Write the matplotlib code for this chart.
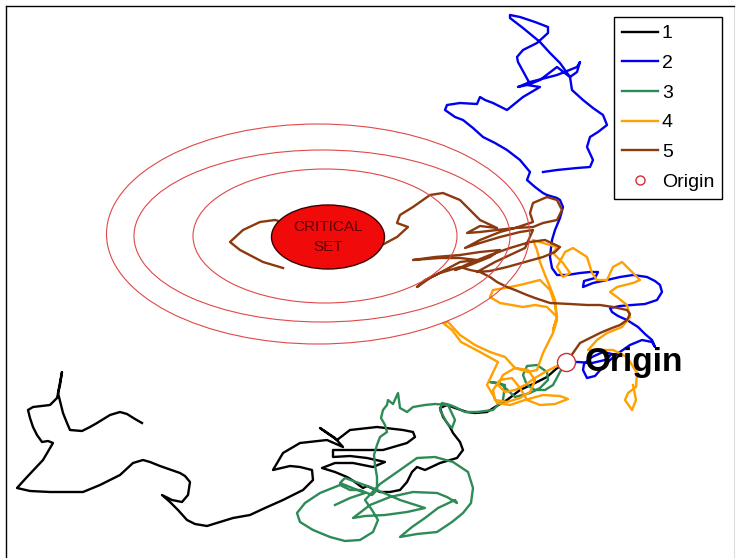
import matplotlib
matplotlib.use("Agg")
import matplotlib.pyplot as plt
from matplotlib.patches import Ellipse

# paths (pixel-like units, y grows downward)
origin = (566, 362)

p1_x = [566, 556, 547, 533, 520, 507, 495, 487, 475, 467, 455, 447, 440, 443, 450, 453, 460, 463, 457, 440,
        425, 417, 412, 407, 400, 390, 380, 367, 363, 352, 347, 335, 322, 335, 353, 373, 385, 367, 350, 333,
        333, 357, 383, 407, 415, 413, 403, 377, 350, 337, 320, 335, 343, 327, 300, 283, 273, 290, 300, 312,
        313, 303, 283, 265, 250, 233, 220, 207, 195, 187, 178, 170, 162, 172, 182, 188, 190, 185, 180, 160,
        150, 143, 133, 120, 100, 83, 65, 50, 30, 17, 27, 43, 53, 48, 42, 37, 33, 30, 28, 33,
        50, 57, 60, 62, 58, 61, 63, 67, 70, 82, 90, 97, 110, 120, 127, 135, 142]
p1_y = [362, 369, 377, 384, 390, 400, 407, 412, 413, 412, 408, 405, 408, 417, 427, 433, 442, 450, 458, 463,
        470, 467, 472, 482, 490, 492, 492, 486, 488, 480, 477, 472, 468, 463, 463, 467, 462, 458, 456, 457,
        450, 450, 450, 443, 437, 432, 430, 427, 430, 440, 428, 438, 447, 440, 443, 453, 470, 466, 467, 470,
        480, 490, 500, 508, 515, 518, 522, 526, 524, 520, 510, 502, 495, 500, 502, 495, 482, 476, 473, 466,
        462, 460, 463, 475, 485, 492, 492, 492, 491, 488, 477, 460, 443, 441, 442, 435, 427, 418, 410, 407,
        405, 398, 385, 372, 393, 405, 413, 423, 430, 431, 427, 423, 415, 412, 414, 419, 423]

p2_x = [566, 578, 592, 605, 612, 603, 592, 584, 583, 587, 595, 602, 610, 620, 630, 642, 652, 655, 652, 645,
        638, 627, 618, 612, 610, 620, 632, 645, 657, 662, 660, 655, 647, 633, 620, 607, 593, 583, 584, 595,
        598, 590, 580, 567, 557, 552, 550, 551, 552, 555, 560, 563, 560, 557, 547, 543, 535, 527, 530, 520,
        507, 495, 483, 473, 463, 455, 445, 447, 460, 477, 480, 485, 493, 507, 523, 540, 527, 518, 530, 557,
        577, 580, 577, 570, 557, 540, 530, 518, 517, 523, 537, 548, 548, 535, 520, 510, 510, 523, 540, 550,
        560, 570, 572, 583, 593, 603, 607, 598, 590, 587, 593, 590, 577, 557, 543]
p2_y = [362, 362, 363, 360, 354, 352, 357, 364, 370, 378, 376, 368, 360, 352, 345, 340, 342, 347, 340, 334,
        327, 320, 316, 312, 308, 306, 305, 304, 300, 292, 285, 281, 277, 275, 277, 280, 283, 287, 281, 278,
        272, 272, 273, 275, 275, 268, 257, 248, 240, 230, 218, 207, 200, 198, 195, 193, 187, 180, 172, 160,
        150, 143, 137, 128, 120, 117, 110, 105, 103, 104, 97, 100, 103, 110, 97, 87, 85, 87, 82, 75,
        67, 62, 72, 77, 67, 80, 84, 62, 57, 50, 43, 33, 27, 22, 17, 15, 18, 28, 42, 53,
        63, 77, 90, 100, 108, 115, 125, 132, 137, 147, 160, 167, 168, 170, 172]

p3_x = [566, 560, 553, 545, 535, 527, 523, 527, 537, 547, 548, 540, 530, 515, 500, 490, 505, 503, 493, 477,
        465, 455, 450, 442, 440, 447, 452, 455, 448, 435, 425, 413, 407, 400, 398, 393, 388, 387, 383, 381,
        385, 387, 380, 377, 374, 375, 377, 377, 372, 360, 350, 340, 320, 305, 297, 300, 313, 330, 345, 360,
        373, 378, 372, 365, 380, 400, 417, 435, 453, 468, 473, 471, 463, 452, 437, 417, 400, 412, 425, 438,
        455, 457, 447, 437, 413, 390, 370, 353, 365, 385, 407, 425, 400, 370, 345, 340, 365, 350, 335]
p3_y = [362, 372, 385, 390, 390, 385, 375, 366, 365, 372, 380, 388, 393, 397, 383, 382, 385, 400, 410, 412,
        412, 407, 405, 403, 410, 423, 428, 420, 405, 404, 405, 407, 412, 408, 393, 404, 400, 405, 410, 418,
        425, 432, 437, 445, 455, 465, 477, 490, 495, 490, 490, 485, 493, 503, 513, 522, 530, 537, 541, 540,
        532, 520, 510, 500, 484, 470, 458, 457, 462, 472, 488, 503, 513, 522, 532, 534, 537, 527, 518, 508,
        500, 503, 497, 493, 492, 497, 505, 518, 516, 515, 512, 508, 500, 487, 478, 483, 493, 498, 505]

p4_x = [566, 555, 545, 535, 525, 515, 505, 498, 503, 515, 528, 535, 530, 520, 507, 495, 493, 500, 512, 520,
        527, 540, 555, 568, 560, 543, 525, 510, 497, 493, 487, 498, 480, 461, 452, 443, 448, 460, 475, 490,
        505, 515, 528, 537, 543, 553, 557, 555, 550, 540, 520, 505, 493, 490, 500, 523, 535, 547, 557, 553,
        557, 555, 550, 545, 540, 537, 533, 543, 557, 553, 563, 570, 563, 557, 565, 573, 587, 592, 597, 607,
        613, 622, 633, 640, 633, 617, 610, 617, 627, 630, 622, 607, 597, 588, 600, 613, 627, 637, 636, 628,
        625, 632, 636, 633]
p4_y = [362, 367, 372, 378, 385, 390, 392, 385, 375, 368, 370, 380, 392, 398, 402, 400, 390, 380, 378, 388,
        400, 405, 404, 399, 396, 395, 400, 405, 403, 395, 385, 362, 352, 342, 330, 323, 322, 335, 345, 352,
        357, 368, 372, 370, 353, 333, 320, 305, 290, 280, 285, 288, 290, 297, 303, 307, 305, 307, 317, 330,
        317, 300, 287, 275, 262, 250, 240, 243, 247, 253, 263, 273, 277, 267, 252, 248, 257, 273, 280, 280,
        267, 262, 273, 280, 283, 287, 292, 297, 305, 317, 327, 333, 340, 350, 350, 350, 357, 373, 387, 393,
        400, 410, 400, 385]

p5_x = [566, 573, 580, 590, 600, 612, 620, 627, 630, 627, 613, 600, 587, 570, 550, 535, 527, 515, 507, 497,
        490, 480, 470, 460, 440, 425, 417, 430, 445, 460, 477, 460, 440, 413, 435, 460, 480, 500, 490, 470,
        455, 470, 490, 510, 530, 545, 560, 555, 543, 525, 507, 490, 477, 495, 510, 525, 533, 520, 500, 480,
        465, 480, 500, 515, 533, 543, 557, 562, 557, 547, 533, 530, 533, 515, 497, 480, 467, 480, 497, 480,
        473, 460, 443, 430, 413, 400, 397, 408, 397, 382, 328, 275, 260, 243, 230, 240, 263, 283]
p5_y = [362, 353, 343, 338, 333, 328, 325, 320, 314, 310, 307, 305, 305, 304, 303, 298, 295, 290, 287, 282,
        277, 272, 270, 267, 273, 280, 287, 278, 270, 262, 260, 258, 258, 260, 257, 255, 252, 250, 257, 265,
        270, 263, 255, 248, 242, 240, 247, 252, 257, 262, 267, 271, 272, 262, 255, 248, 230, 232, 237, 243,
        248, 240, 232, 228, 227, 223, 220, 210, 200, 197, 203, 213, 222, 228, 230, 232, 233, 226, 228, 220,
        213, 200, 193, 195, 207, 215, 223, 227, 237, 245, 235, 220, 222, 230, 242, 250, 262, 268]

labels = ["1", "2", "3", "4", "5"]
colors = ["black", "#0000ee", "#2e8b57", "#ffa000", "#8b3a10"]

# rings around the critical set: (cx, cy, width, height)
rings = [(318, 234, 423, 220), (322, 236, 376, 172), (325, 236, 264, 134)]
crit = (328, 237, 113, 64)

plt.rcParams["font.family"] = ["Liberation Sans", "DejaVu Sans"]

fig = plt.figure(figsize=(7.37, 5.58), dpi=100)
ax = fig.add_axes([6 / 737, 0, 728 / 737, 552 / 558])
ax.set_xlim(6, 734)
ax.set_ylim(558, 6)
ax.set_xticks([])
ax.set_yticks([])
ax.spines["bottom"].set_visible(False)
ax.spines["right"].set_color("#dddddd")
ax.spines["top"].set_linewidth(1)
ax.spines["left"].set_linewidth(1)

paths = [(p1_x, p1_y), (p2_x, p2_y), (p3_x, p3_y), (p4_x, p4_y), (p5_x, p5_y)]
for i, (px, py) in enumerate(paths):
    ax.plot(px, py, color=colors[i], lw=1.7, label=labels[i], zorder=2 + i,
            solid_joinstyle="round")

for cx, cy, w, h in rings:
    ax.add_patch(Ellipse((cx, cy), w, h, fill=False, edgecolor="#e04848", lw=0.8, zorder=8))

ax.add_patch(Ellipse((crit[0], crit[1]), crit[2], crit[3], facecolor="#f00a0a",
                     edgecolor="#3a0000", lw=1, zorder=9))
ax.text(crit[0], crit[1], "CRITICAL\nSET", ha="center", va="center", fontsize=11,
        color="#5a0000", linespacing=1.5, zorder=10)

ax.plot([origin[0]], [origin[1]], "o", ms=13, mfc="white", mec="#d03030", mew=1,
        label="Origin", zorder=11)
ax.text(origin[0] + 19, origin[1], "Origin", fontsize=24, fontweight="bold",
        ha="left", va="center", zorder=12)

leg = ax.legend(loc="upper right", bbox_to_anchor=(0.9835, 0.98), borderaxespad=0,
                fontsize=14, handlelength=1.85, handletextpad=0.2, labelspacing=0.62,
                borderpad=0.4, markerscale=0.5, fancybox=False, framealpha=1,
                edgecolor="black")
leg.get_frame().set_linewidth(1)
leg.set_zorder(20)

fig.savefig("out.png", dpi=100)
